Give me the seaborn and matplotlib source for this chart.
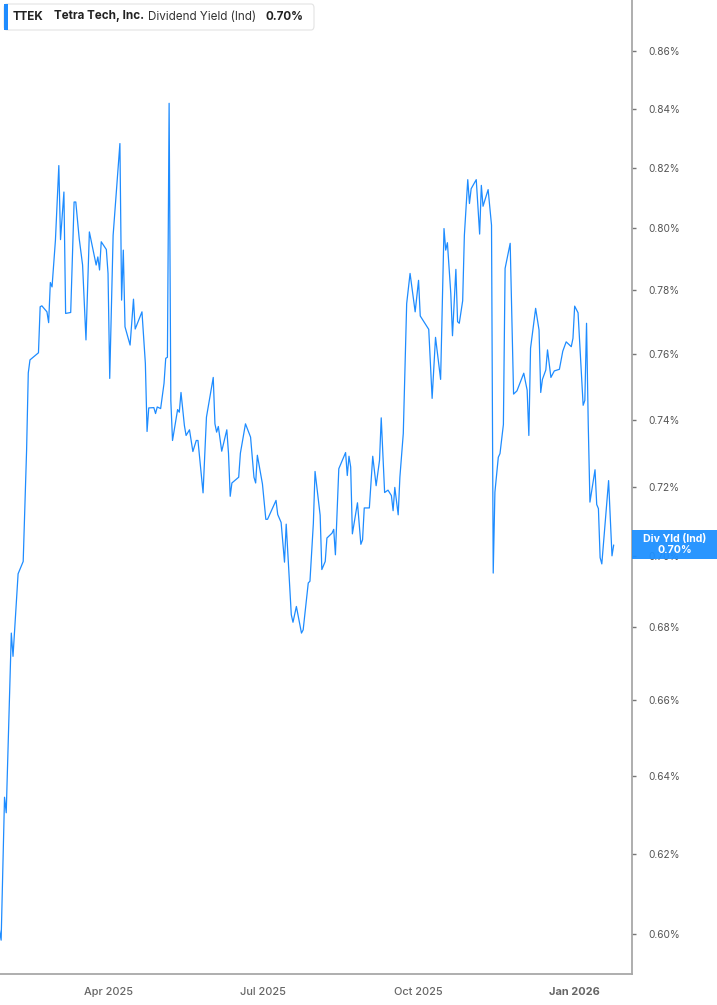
import pandas as pd
import numpy as np
import matplotlib
matplotlib.use("Agg")
import matplotlib.pyplot as plt
import matplotlib.dates as mdates
from matplotlib.patches import Rectangle, FancyBboxPatch
from matplotlib.ticker import FixedLocator, NullLocator
import seaborn as sns

# Dividend yield (%)
dates = [
    # Jan 2025
    "2025-01-27", "2025-01-28", "2025-01-30", "2025-01-31",
    # Feb
    "2025-02-03", "2025-02-04", "2025-02-07", "2025-02-10", "2025-02-12", "2025-02-13",
    "2025-02-14", "2025-02-19", "2025-02-20", "2025-02-21", "2025-02-24", "2025-02-25",
    "2025-02-26", "2025-02-27",
    # Mar
    "2025-03-01", "2025-03-03", "2025-03-04", "2025-03-06", "2025-03-07", "2025-03-10",
    "2025-03-12", "2025-03-13", "2025-03-15", "2025-03-17", "2025-03-19", "2025-03-21",
    "2025-03-25", "2025-03-26", "2025-03-27", "2025-03-28", "2025-03-31",
    # Apr
    "2025-04-01", "2025-04-02", "2025-04-04", "2025-04-08", "2025-04-09", "2025-04-10",
    "2025-04-11", "2025-04-14", "2025-04-16", "2025-04-17", "2025-04-21", "2025-04-23",
    "2025-04-24", "2025-04-25", "2025-04-28", "2025-04-29", "2025-04-30",
    # May
    "2025-05-02", "2025-05-04", "2025-05-05", "2025-05-06", "2025-05-07", "2025-05-08",
    "2025-05-09", "2025-05-12", "2025-05-13", "2025-05-14", "2025-05-16", "2025-05-17",
    "2025-05-19", "2025-05-21", "2025-05-23", "2025-05-24", "2025-05-27", "2025-05-29",
    # Jun
    "2025-06-02", "2025-06-03", "2025-06-04", "2025-06-05", "2025-06-07", "2025-06-10",
    "2025-06-11", "2025-06-12", "2025-06-13", "2025-06-17", "2025-06-18", "2025-06-21",
    "2025-06-24", "2025-06-26", "2025-06-27", "2025-06-28",
    # Jul
    "2025-07-01", "2025-07-03", "2025-07-04", "2025-07-09", "2025-07-10", "2025-07-12",
    "2025-07-14", "2025-07-15", "2025-07-18", "2025-07-19", "2025-07-21", "2025-07-24",
    "2025-07-25", "2025-07-28", "2025-07-29", "2025-07-31",
    # Aug
    "2025-08-01", "2025-08-04", "2025-08-05", "2025-08-07", "2025-08-08", "2025-08-11",
    "2025-08-12", "2025-08-13", "2025-08-15", "2025-08-19", "2025-08-20", "2025-08-21",
    "2025-08-22", "2025-08-23", "2025-08-26", "2025-08-28", "2025-08-29", "2025-08-30",
    # Sep
    "2025-09-02", "2025-09-04", "2025-09-06", "2025-09-08", "2025-09-09", "2025-09-11",
    "2025-09-13", "2025-09-15", "2025-09-16", "2025-09-17", "2025-09-19", "2025-09-20",
    "2025-09-22", "2025-09-24", "2025-09-26", "2025-09-29",
    # Oct
    "2025-10-01", "2025-10-02", "2025-10-07", "2025-10-09", "2025-10-11", "2025-10-14",
    "2025-10-16", "2025-10-17", "2025-10-18", "2025-10-20", "2025-10-21", "2025-10-23",
    "2025-10-24", "2025-10-25", "2025-10-27", "2025-10-28", "2025-10-30", "2025-10-31",
    # Nov
    "2025-11-01", "2025-11-04", "2025-11-06", "2025-11-07", "2025-11-08", "2025-11-11",
    "2025-11-13", "2025-11-14", "2025-11-15", "2025-11-17", "2025-11-18", "2025-11-20",
    "2025-11-21", "2025-11-24", "2025-11-26", "2025-11-28",
    # Dec
    "2025-12-02", "2025-12-04", "2025-12-05", "2025-12-06", "2025-12-09", "2025-12-11",
    "2025-12-12", "2025-12-13", "2025-12-15", "2025-12-16", "2025-12-18", "2025-12-20",
    "2025-12-23", "2025-12-25", "2025-12-27", "2025-12-30", "2025-12-31",
    # Jan 2026
    "2026-01-01", "2026-01-03", "2026-01-06", "2026-01-07", "2026-01-08", "2026-01-09",
    "2026-01-10", "2026-01-13", "2026-01-14", "2026-01-15", "2026-01-16", "2026-01-17",
    "2026-01-21", "2026-01-23", "2026-01-24",
]

div_yield = [
    0.601, 0.5985, 0.6344, 0.6304,
    0.6783, 0.6719, 0.6949, 0.6984, 0.7307, 0.7542,
    0.7582, 0.7604, 0.7748, 0.7751, 0.7732, 0.7698,
    0.7825, 0.7811,
    0.7961, 0.8207, 0.7963, 0.8119, 0.7727, 0.7730,
    0.8086, 0.8086, 0.7967, 0.7881, 0.7644, 0.7988,
    0.7881, 0.7907, 0.7865, 0.7956, 0.7931,
    0.7854, 0.7525, 0.7977, 0.8281, 0.7769, 0.7929,
    0.7685, 0.7628, 0.7772, 0.7678, 0.7732, 0.7571,
    0.7364, 0.7435, 0.7436, 0.7418, 0.7438,
    0.7433, 0.7510, 0.7587, 0.7590, 0.8418, 0.7458,
    0.7337, 0.7430, 0.7422, 0.7482, 0.7382, 0.7352,
    0.7369, 0.7304, 0.7337, 0.7337, 0.7182, 0.7407,
    0.7528, 0.7387, 0.7362, 0.7379, 0.7305, 0.7369,
    0.7298, 0.7172, 0.7211, 0.7228, 0.7299, 0.7387,
    0.7347, 0.7228, 0.7211, 0.7293,
    0.7208, 0.7105, 0.7105, 0.7160, 0.7119, 0.7096,
    0.6982, 0.7091, 0.6834, 0.6813, 0.6857, 0.6783,
    0.6792, 0.6923, 0.6928, 0.7093,
    0.7245, 0.7117, 0.6961, 0.6984, 0.7051, 0.7065,
    0.7076, 0.7003, 0.7253, 0.7301, 0.7233, 0.7290,
    0.7258, 0.7063, 0.7153, 0.7033, 0.7046, 0.7138,
    0.7138, 0.7290, 0.7203, 0.7278, 0.7405, 0.7183,
    0.7190, 0.7174, 0.7130, 0.7198, 0.7118, 0.7228,
    0.7358, 0.7758, 0.7854, 0.7732,
    0.7832, 0.7719, 0.7677, 0.7464, 0.7652, 0.7522,
    0.7999, 0.7929, 0.7953, 0.7790, 0.7657, 0.7867,
    0.7701, 0.7696, 0.7767, 0.7977, 0.8160, 0.8081,
    0.8130, 0.8160, 0.7981, 0.8141, 0.8072, 0.8127,
    0.8010, 0.6951, 0.7184, 0.7287, 0.7298, 0.7385,
    0.7870, 0.7951, 0.7477, 0.7487,
    0.7541, 0.7489, 0.7352, 0.7618, 0.7743, 0.7675,
    0.7482, 0.7522, 0.7551, 0.7613, 0.7528, 0.7548,
    0.7553, 0.7609, 0.7638, 0.7623, 0.7649,
    0.7750, 0.7729, 0.7443, 0.7458, 0.7696, 0.7387,
    0.7155, 0.7250, 0.7148, 0.7136, 0.6995, 0.6977,
    0.7218, 0.7000, 0.7031,
]

y_ticks = [0.60, 0.62, 0.64, 0.66, 0.68, 0.70, 0.72, 0.74, 0.76, 0.78, 0.80, 0.82, 0.84, 0.86]
x_ticks = ["2025-04-01", "2025-07-01", "2025-10-01", "2026-01-01"]
x_tick_labels = ["Apr 2025", "Jul 2025", "Oct 2025", "Jan 2026"]

ticker = "TTEK"
company = "Tetra Tech, Inc."
metric = "Dividend Yield (Ind)"
end_label = "Div Yld (Ind)"

df = pd.DataFrame({"date": pd.to_datetime(dates), "yield": div_yield})

sns.set_style("white")
plt.rcParams["font.family"] = ["Inter", "DejaVu Sans"]

W, H = 717, 1005
fig = plt.figure(figsize=(W / 100, H / 100), dpi=100)
ax = fig.add_axes([0, 31 / H, 632 / W, 1 - 31 / H])

blue = "#1E8CFF"
grey = "#a8a8a8"
sns.lineplot(data=df, x="date", y="yield", ax=ax, color=blue, linewidth=0.9)

ax.set_yscale("log")
ax.set_ylim(0.5903, 0.878)
ax.set_xlim(pd.Timestamp("2025-01-27 08:00"), pd.Timestamp("2026-02-03 19:00"))

ax.yaxis.tick_right()
ax.yaxis.set_major_locator(FixedLocator(y_ticks))
ax.yaxis.set_minor_locator(NullLocator())
ax.set_yticklabels([f"{t:.2f}%" for t in y_ticks])
ax.tick_params(axis="y", which="major", length=3, width=1, color="#777777",
               labelsize=7.3, labelcolor="#555555", pad=9, direction="out")

ax.set_xticks(pd.to_datetime(x_ticks))
ax.set_xticklabels(x_tick_labels)
ax.tick_params(axis="x", length=5, width=1, color=grey, labelsize=7.9,
               labelcolor="#666666", pad=4)
for lbl in ax.get_xticklabels():
    lbl.set_fontweight("bold" if lbl.get_text().startswith("Jan") else "medium")

ax.set_xlabel("")
ax.set_ylabel("")
for side in ["top", "left"]:
    ax.spines[side].set_visible(False)
for side in ["right", "bottom"]:
    ax.spines[side].set_color(grey)
    ax.spines[side].set_linewidth(1.3)
ax.grid(False)


def fx(px):
    return px / W


def fy(py):
    return 1 - py / H


# header box
fig.patches.append(FancyBboxPatch((fx(4), fy(30)), fx(310), 26 / H,
                                  boxstyle="round,pad=0,rounding_size=0.004",
                                  transform=fig.transFigure, facecolor="white",
                                  edgecolor="#e3e3e3", linewidth=0.8, zorder=5))
fig.patches.append(Rectangle((fx(4), fy(30)), fx(3.5), 26 / H, transform=fig.transFigure,
                             facecolor=blue, edgecolor="none", zorder=6))
hdr_y = fy(16.5)
fig.text(fx(13), hdr_y, ticker, fontsize=8.4, fontweight="bold", color="#222222",
         va="center", zorder=7)
fig.text(fx(54), hdr_y, company, fontsize=8.4, fontweight="bold", color="#222222",
         va="center", zorder=7)
fig.text(fx(148), hdr_y, metric, fontsize=8.4, color="#333333", va="center", zorder=7)
fig.text(fx(265), hdr_y, f"{div_yield[-1]:.2f}%", fontsize=8.4, fontweight="bold",
         color="#222222", va="center", zorder=7)

# end-of-line value tag
fig.canvas.draw()
last_px = ax.transData.transform((mdates.date2num(df["date"].iloc[-1]), div_yield[-1]))[1]
fig.patches.append(Rectangle((fx(632), (last_px - 14.5) / H), fx(85), 29 / H,
                             transform=fig.transFigure, facecolor="#1E90FF",
                             edgecolor="none", alpha=0.95, zorder=5))
fig.text(fx(675), (last_px + 5.5) / H, end_label, fontsize=7.6, fontweight="bold",
         color="white", ha="center", va="center", zorder=7)
fig.text(fx(675), (last_px - 5.5) / H, f"{div_yield[-1]:.2f}%", fontsize=7.6,
         fontweight="bold", color="white", ha="center", va="center", zorder=7)

plt.savefig("out.png", dpi=100)
